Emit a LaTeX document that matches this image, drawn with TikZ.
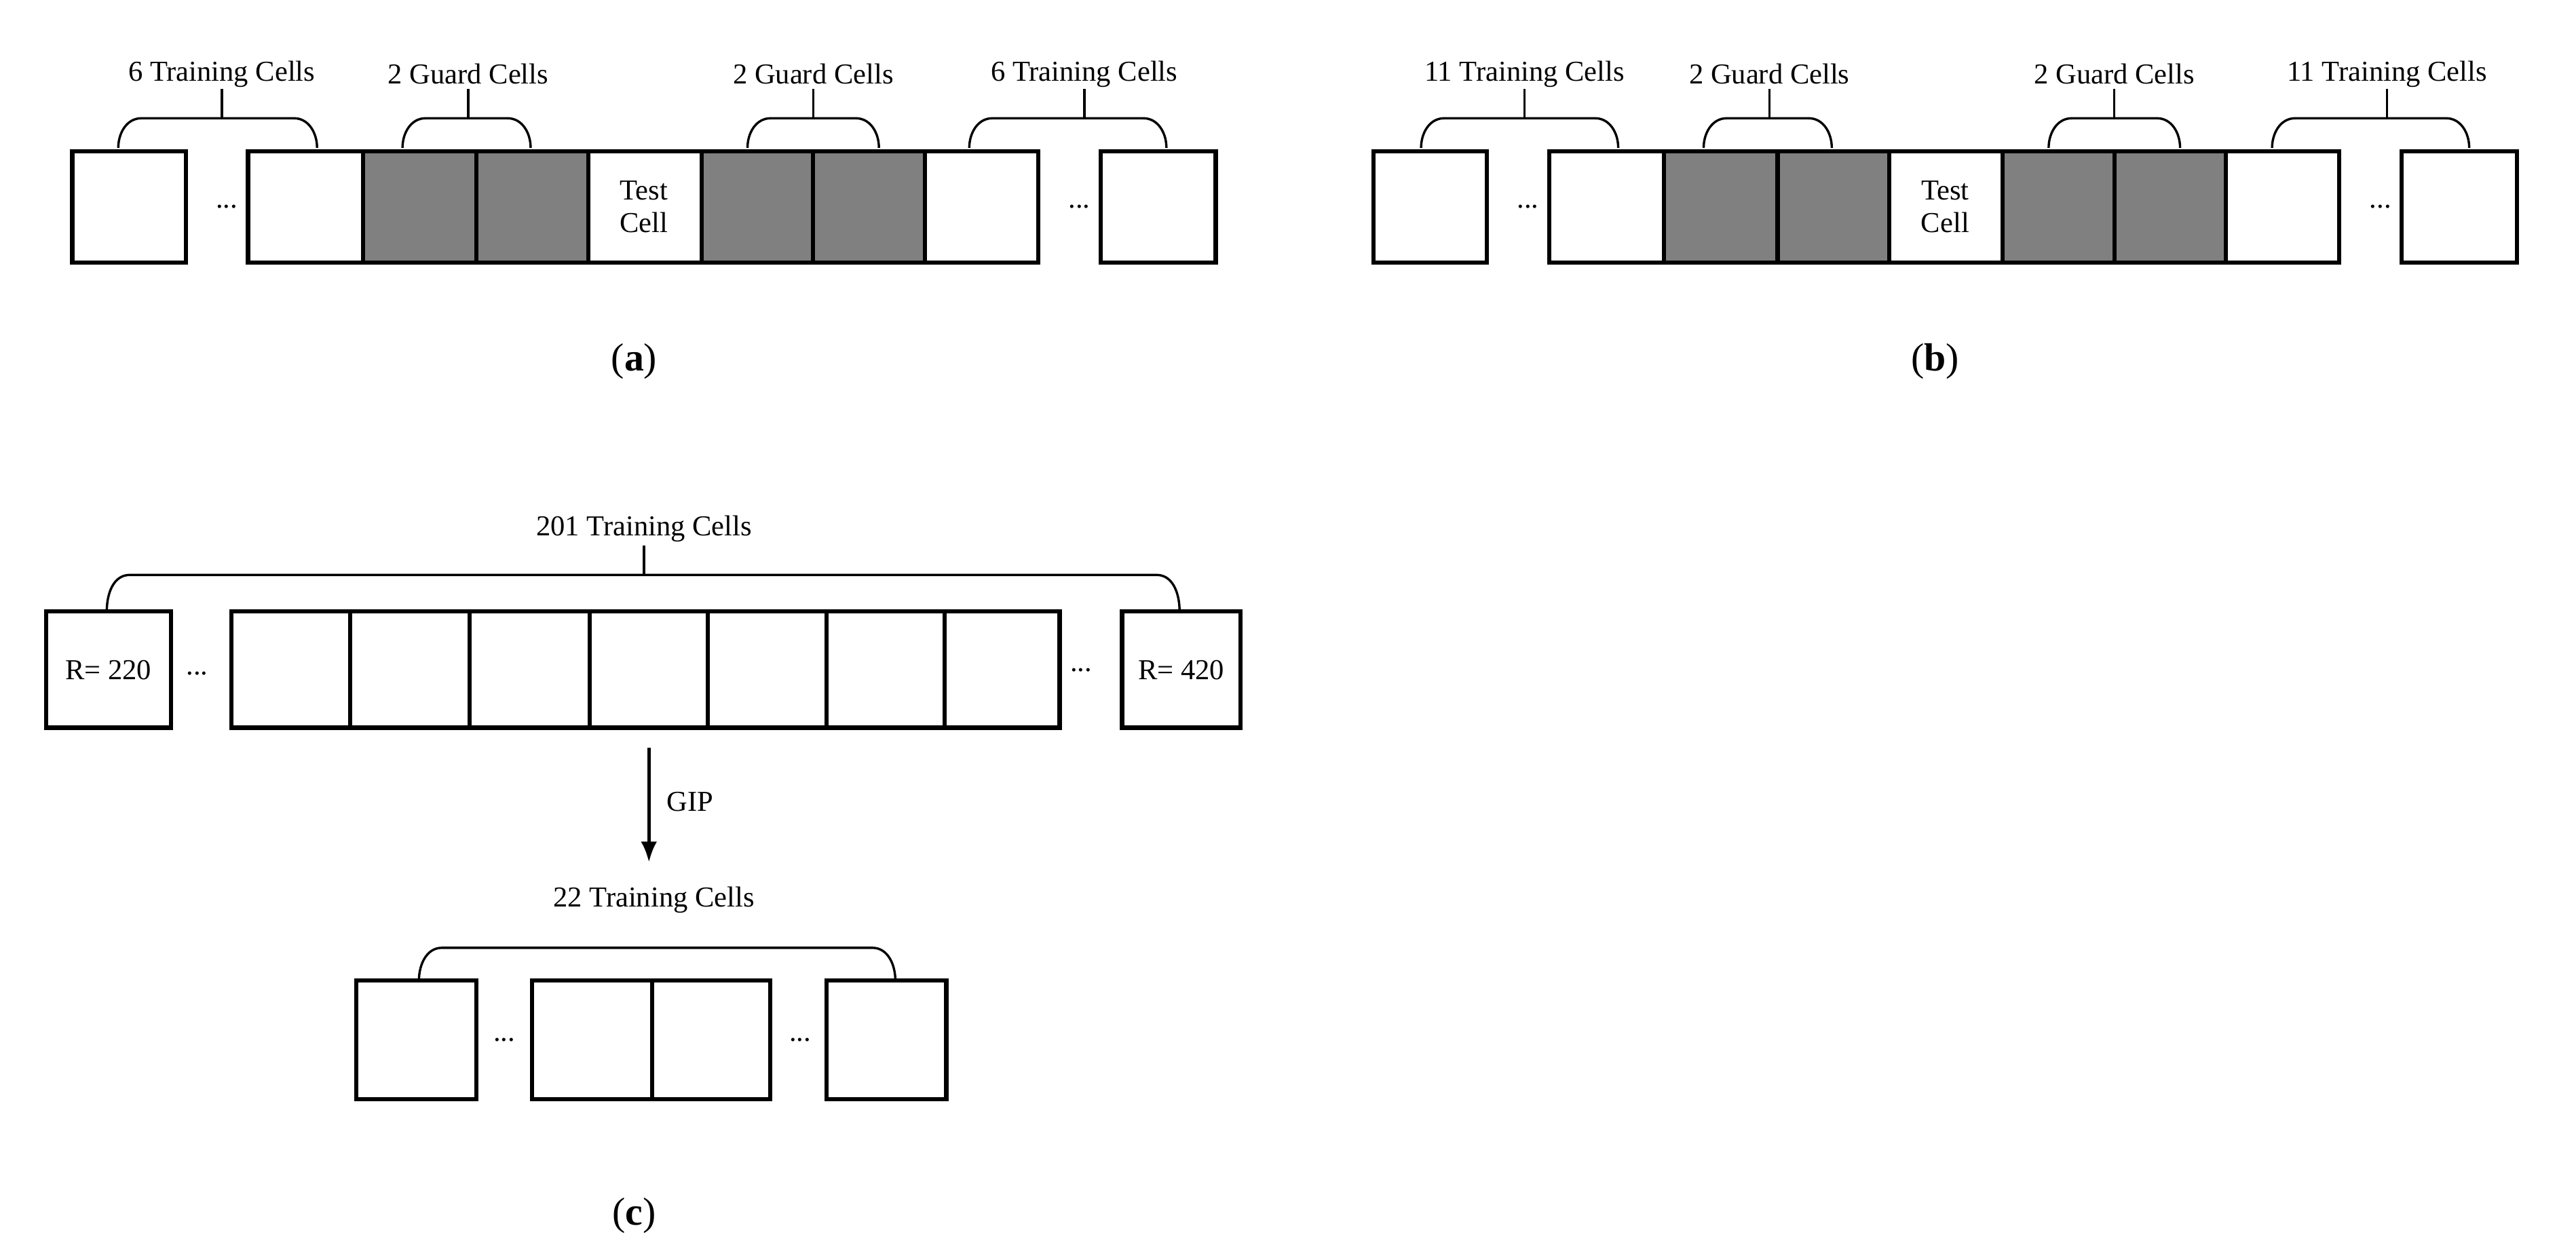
\documentclass[tikz,border=0pt]{standalone}
\usepackage{fontspec}
\setmainfont{Liberation Serif}
\usetikzlibrary{arrows.meta}
\tikzset{cellw/.style={draw,line width=1.8pt,fill=white},
 cellg/.style={draw,line width=1.8pt,fill=black!50},
 brc/.style={line width=1pt},
 lbl/.style={font=\fontsize{12.5}{14}\selectfont,inner sep=1pt},
 figcap/.style={font=\fontsize{17}{20}\selectfont}}
\newcommand{\mybrace}[4]{% x1 x2 ytop ybottom
 \draw[brc] (#1,#4) to[out=90,in=180] (#1+14,#3) -- (#2-14,#3) to[out=0,in=90] (#2,#4);}
\begin{document}
\begin{tikzpicture}[x=0.025cm,y=-0.025cm]
\useasboundingbox (0,0) rectangle (1568,767);
\foreach \o in {0,792}{
 \begin{scope}[xshift=\o*0.025cm]
 \draw[cellw] (44,92) rectangle (113,160);
 \node[lbl] at (138,126) {...};
 \draw[cellw] (151,92) rectangle (221,160);
 \draw[cellg] (221,92) rectangle (290,160);
 \draw[cellg] (290,92) rectangle (358,160);
 \draw[cellw] (358,92) rectangle (427,160);
 \node[lbl,align=center] at (392,126) {Test\\Cell};
 \draw[cellg] (427,92) rectangle (495,160);
 \draw[cellg] (495,92) rectangle (563,160);
 \draw[cellw] (563,92) rectangle (632,160);
 \node[lbl] at (657,126) {...};
 \draw[cellw] (670,92) rectangle (740,160);
 \mybrace{245}{323}{72}{90}
 \mybrace{455}{535}{72}{90}
 \draw[brc] (285,72) -- (285,54); \node[lbl] at (285,45) {2 Guard Cells};
 \draw[brc] (495,72) -- (495,54); \node[lbl] at (495,45) {2 Guard Cells};
 \end{scope}}
\mybrace{72}{193}{72}{90}
\draw[brc] (135,72) -- (135,54); \node[lbl] at (135,45) {6 Training Cells};
\mybrace{590}{710}{72}{90}
\draw[brc] (660,72) -- (660,54); \node[lbl] at (660,45) {6 Training Cells};
\node[figcap] at (386,220) {(\textbf{a})};
\mybrace{865}{985}{72}{90}
\draw[brc] (928,72) -- (928,54); \node[lbl] at (928,45) {11 Training Cells};
\mybrace{1383}{1503}{72}{90}
\draw[brc] (1453,72) -- (1453,54); \node[lbl] at (1453,45) {11 Training Cells};
\node[figcap] at (1178,220) {(\textbf{b})};
% (c)
\draw[cellw] (28,372) rectangle (104,443);
\node[lbl] at (66,408) {R= 220};
\node[lbl] at (120,410) {...};
\foreach \a/\b in {141/213,213/286,286/359,359/431,431/503,503/575,575/645}
 \draw[cellw] (\a,372) rectangle (\b,443);
\node[lbl] at (658,408) {...};
\draw[cellw] (683,372) rectangle (755,443);
\node[lbl] at (719,408) {R= 420};
\mybrace{65}{718}{350}{372}
\draw[brc] (392,350) -- (392,332); \node[lbl] at (392,322) {201 Training Cells};
\coordinate (ga) at (395,455); \coordinate (gb) at (395,525);
\draw[line width=1.5pt,-{Latex[length=9pt,width=7pt]}] (ga) -- (gb);
\node[lbl] at (420,488) {GIP};
\node[lbl] at (398,548) {22 Training Cells};
\mybrace{255}{545}{577}{597}
\draw[cellw] (217,597) rectangle (290,669);
\node[lbl] at (307,633) {...};
\draw[cellw] (324,597) rectangle (397,669);
\draw[cellw] (397,597) rectangle (469,669);
\node[lbl] at (487,633) {...};
\draw[cellw] (503,597) rectangle (576,669);
\node[figcap] at (386,740) {(\textbf{c})};
\end{tikzpicture}
\end{document}
